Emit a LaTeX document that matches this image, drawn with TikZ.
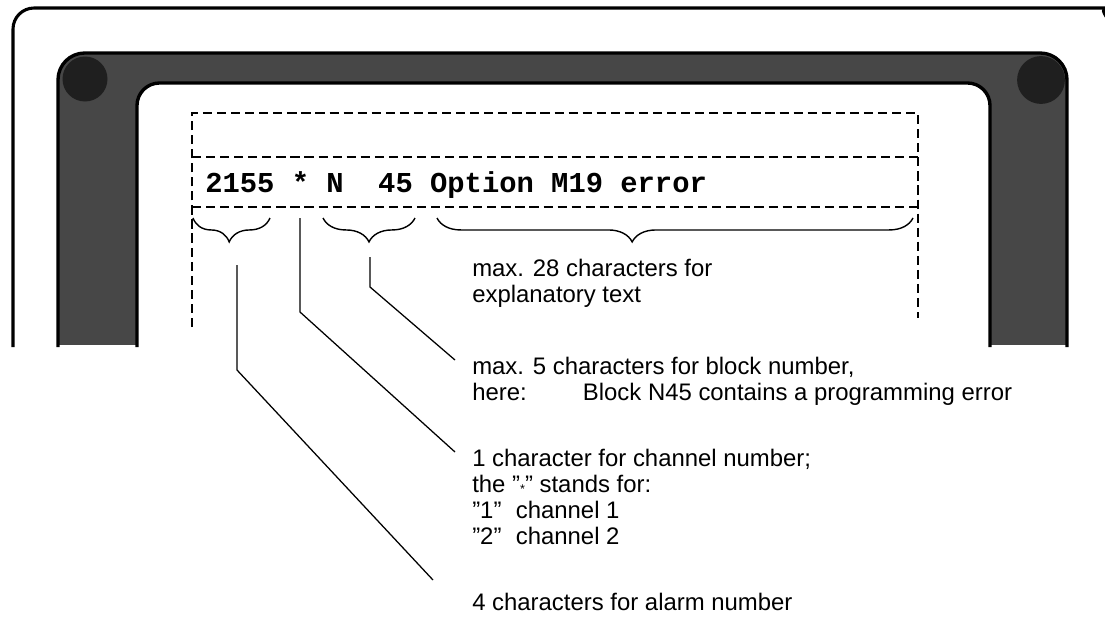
\documentclass[tikz,border=0pt]{standalone}
\usepackage{fontspec}
\setmainfont{Liberation Sans}
\newfontfamily\codefont{Liberation Mono}
\usetikzlibrary{decorations.pathreplacing}

\begin{document}
\begin{tikzpicture}[x=0.025cm,y=-0.025cm,
    font=\fontsize{17}{18.3}\selectfont,
    frame/.style={line width=2.2pt},
    edge/.style={line width=2.4pt},
    dsh/.style={line width=0.9pt,dash pattern=on 6.5pt off 3.5pt},
    brc/.style={decorate,decoration={brace,mirror,amplitude=17pt},line width=1pt},
    lead/.style={line width=0.9pt},
    note/.style={anchor=base west,align=left,inner sep=0pt}]
  \useasboundingbox (0,0) rectangle (1105,625);
  \clip (0,0) rectangle (1105,625);
  % housing and screen bezel
  \draw[frame] (13,347) [rounded corners=15pt] -- (13,8) -- (1090,8) [sharp corners]
    .. controls (1099,8) and (1104,12) .. (1108,20);
  \begin{scope}
    \clip (0,0) rectangle (1105,344);
    \fill[black!72,rounded corners=19pt] (58,400) -- (58,53) -- (1067,53) -- (1067,400) -- cycle;
    \fill[black!88] (85,79) circle (16pt) (1041,80) circle (17pt);
    \fill[white,rounded corners=16pt] (137,400) -- (137,83) -- (990,83) -- (990,400) -- cycle;
  \end{scope}
  \draw[edge,rounded corners=19pt] (58,347) -- (58,53) -- (1067,53) -- (1067,347);
  \draw[edge,rounded corners=16pt] (137,347) -- (137,83) -- (990,83) -- (990,347);
  % alarm line field
  \draw[dsh] (192,327) -- (192,113) -- (918,113) -- (918,318);
  \draw[dsh] (192,157) -- (918,157) (192,207) -- (918,207);
  \node[anchor=base west,inner sep=0pt,font=\codefont\bfseries\fontsize{20.5}{24}\selectfont] (msg) at (205,192) {2155 * N\ \ 45 Option M19 error};
  % braces
  \draw[brc,decoration={aspect=0.47}] (193,218) -- (270,218);
  \draw[brc] (323,218) -- (415,218);
  \draw[brc,decoration={aspect=0.41}] (437,218) -- (913,218);
  % explanations (anchored on the last line)
  \node[note] (expl) at (472,302) {max. 28 characters for\\explanatory text};
  \node[note] (block) at (472,400) {max. 5 characters for block number,\\\makebox[78.7pt][l]{here:}Block N45 contains a programming error};
  \node[note] (chan) at (472,544) {1 character for channel number;\\the ”\raisebox{-0.8pt}{\small *}” stands for:\\”1”\hspace{0.6em}channel 1\\”2”\hspace{0.6em}channel 2};
  \node[note] (alarm) at (472,610) {4 characters for alarm number};
  % leader lines
  \coordinate (ntop) at (370,257);
  \coordinate (nbend) at (370,287);
  \coordinate (nend) at (455,360);
  \coordinate (stop) at (300,218);
  \coordinate (sbend) at (300,312);
  \coordinate (send) at (455,452);
  \coordinate (atop) at (237,265);
  \coordinate (abend) at (237,370);
  \coordinate (aend) at (433,580);
  \draw[lead] (ntop) -- (nbend) -- (nend);
  \draw[lead] (stop) -- (sbend) -- (send);
  \draw[lead] (atop) -- (abend) -- (aend);
\end{tikzpicture}
\end{document}
